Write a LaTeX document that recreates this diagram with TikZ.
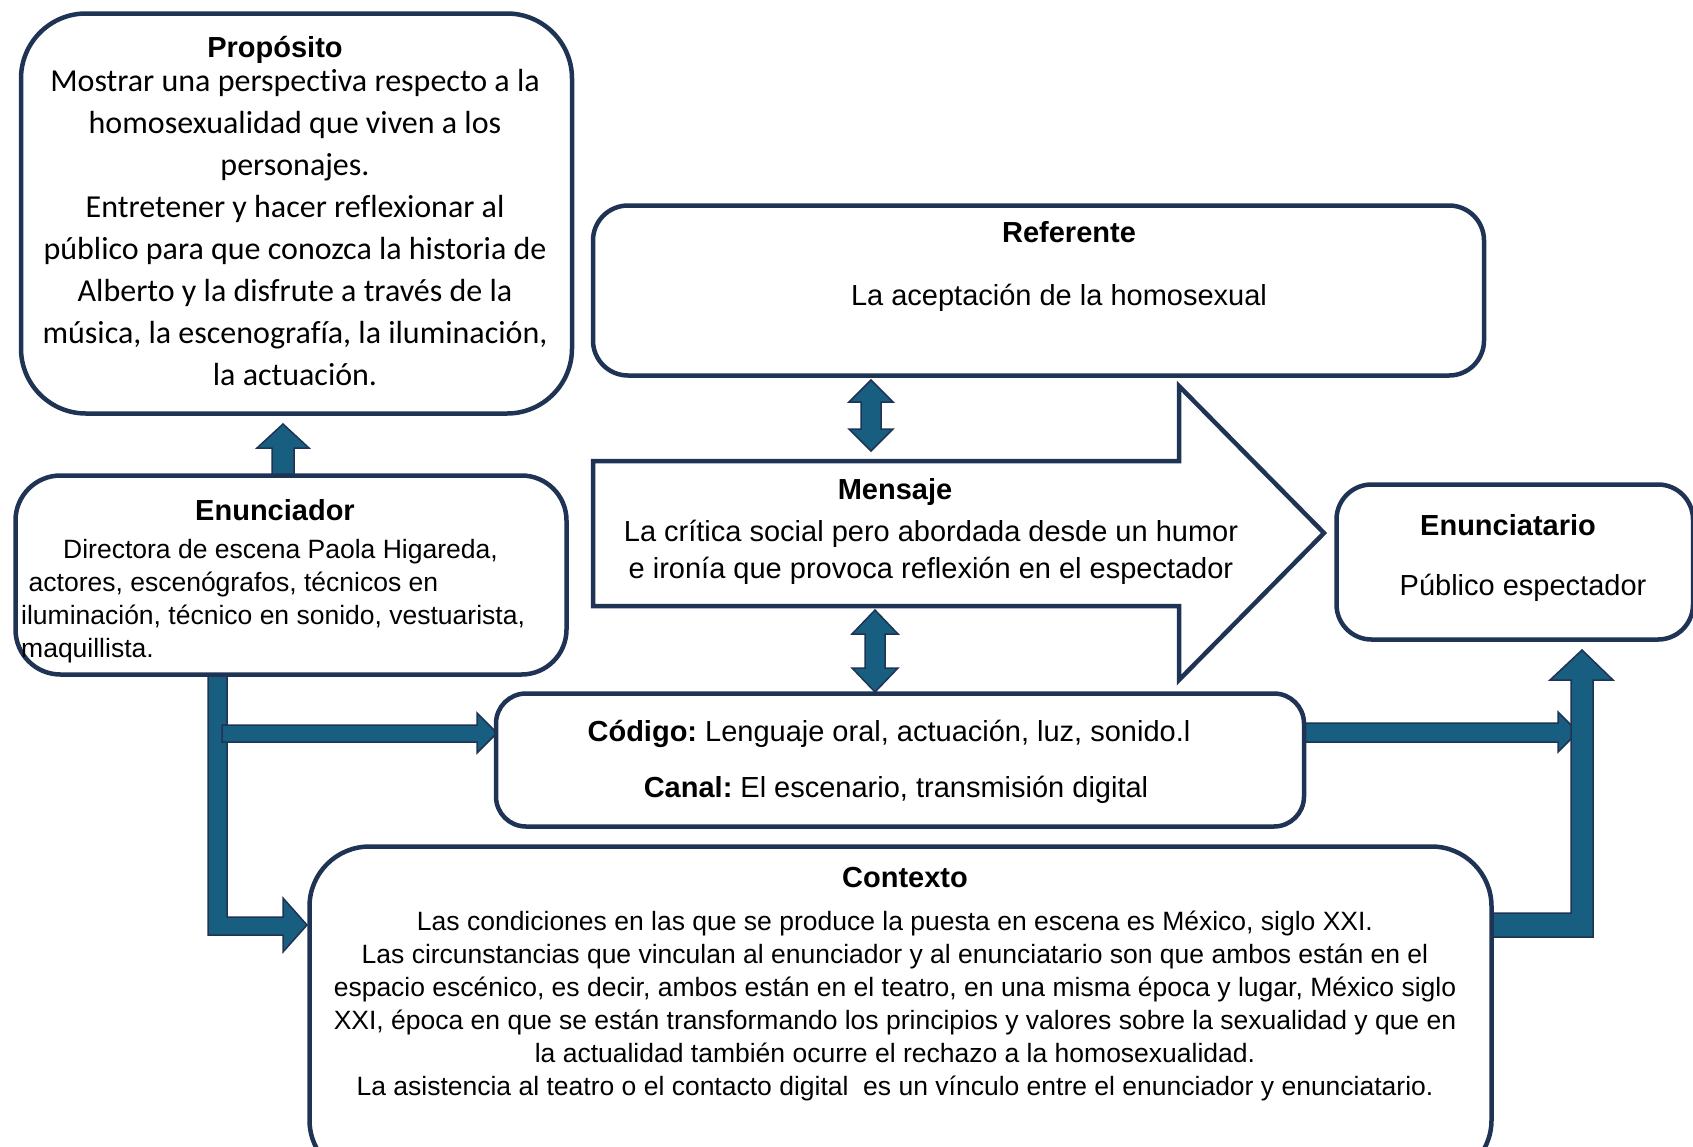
\documentclass[tikz,border=0pt]{standalone}
\usepackage{fontspec}
\setmainfont{Liberation Sans}
\newfontfamily\calibri[Ligatures=CommonOff]{Carlito}
\definecolor{navy}{HTML}{1F3354}
\definecolor{afill}{HTML}{185E80}
\tikzset{
  box/.style={draw=navy, line width=4.5pt, fill=white, inner sep=0pt},
  barrow/.style={fill=afill, draw=navy, line width=1.5pt, line join=miter},
  ttl/.style={font=\fontsize{29}{35}\selectfont\bfseries, inner sep=0pt},
  txt/.style={font=\fontsize{29}{37}\selectfont, inner sep=0pt, align=center},
  small/.style={font=\fontsize{26.5}{33}\selectfont, inner sep=0pt},
}
\begin{document}
\begin{tikzpicture}[x=1pt,y=-1pt]
\clip (0,0) rectangle (1693,1146);
\fill[white] (0,0) rectangle (1693,1146);

% block arrows (under the boxes)
% Enunciador -> Proposito
\draw[barrow] (272,480) -- (272,448) -- (257,448) -- (283,424) -- (309,448) -- (294,448) -- (294,480) -- cycle;
% Enunciador -> Contexto (L)
\draw[barrow] (208,670) -- (227,670) -- (227,917) -- (283,917) -- (283,898) -- (307,925) -- (283,952) -- (283,935) -- (208,935) -- cycle;
% Enunciador -> Codigo
\draw[barrow] (222,725) -- (477,725) -- (477,713) -- (497,733) -- (477,753) -- (477,742) -- (222,742) -- cycle;
% Codigo -> right
\draw[barrow] (1300,723) -- (1558,723) -- (1558,712) -- (1578,732) -- (1558,752) -- (1558,742) -- (1300,742) -- cycle;
% Contexto -> Enunciatario (L)
\draw[barrow] (1485,913) -- (1571,913) -- (1571,680) -- (1550,680) -- (1582,650) -- (1613,680) -- (1593,680) -- (1593,937) -- (1485,937) -- cycle;

% boxes
\node[box, rounded corners=65pt, minimum width=551pt, minimum height=400pt] (prop) at (296.5,213.5) {};
\node[box, rounded corners=45pt, minimum width=551pt, minimum height=199pt] (enun) at (291,575) {};
\node[box, rounded corners=35pt, minimum width=891pt, minimum height=170pt] (refe) at (1038.5,290.5) {};
\node[box, rounded corners=35pt, minimum width=356.5pt, minimum height=155pt] (enut) at (1514.75,562) {};
\node[box, rounded corners=30pt, minimum width=808pt, minimum height=133pt] (codi) at (900,760) {};
\node[box, rounded corners=60pt, minimum width=1182pt, minimum height=333.5pt] (cont) at (900.5,1013.25) {};

% Mensaje big arrow
\draw[draw=navy, line width=4.5pt, fill=white, line join=miter]
  (593,461) -- (1179,461) -- (1179,386) -- (1324,533) -- (1179,680) -- (1179,606) -- (593,606) -- cycle;

% double arrows
\draw[barrow] (861,402) -- (849,402) -- (871,380) -- (893,402) -- (881,402) -- (881,429) -- (893,429) -- (871,451) -- (849,429) -- (861,429) -- cycle;
\draw[barrow] (865,634) -- (852,634) -- (875,610) -- (898,634) -- (885,634) -- (885,668) -- (898,668) -- (875,692) -- (852,668) -- (865,668) -- cycle;

% texts
\node[ttl] (propT) at (275,50) {Propósito};
\node[font=\calibri\fontsize{32}{42}\selectfont, inner sep=0pt, align=center] (propB) at (295,228) {Mostrar una perspectiva respecto a la\\homosexualidad que viven a los\\personajes.\\Entretener y hacer reflexionar al\\público para que conozca la historia de\\Alberto y la disfrute a través de la\\música, la escenografía, la iluminación,\\la actuación.};

\node[ttl] (enunT) at (275,510) {Enunciador};
\node[small, align=left, anchor=west] (enunB) at (21,601) {\hspace*{42pt}Directora de escena Paola Higareda,\\\hspace*{7.5pt}actores, escenógrafos, técnicos en\\iluminación, técnico en sonido, vestuarista,\\maquillista.};

\node[ttl] (refeT) at (1069,232) {Referente};
\node[txt] (refeB) at (1059,298) {La aceptación de la homosexual};

\node[ttl] (mensT) at (895,492) {Mensaje};
\node[txt] (mensB) at (931,552.5) {La crítica social pero abordada desde un humor\\e ironía que provoca reflexión en el espectador};

\node[ttl] (enutT) at (1508,525) {Enunciatario};
\node[txt] (enutB) at (1523,588) {Público espectador};

\node[txt] (codiA) at (889,734) {\textbf{Código:}\hspace{8pt}Lenguaje oral, actuación, luz, sonido.l};
\node[txt] (codiB) at (896,790) {\textbf{Canal:}\hspace{8pt}El escenario, transmisión digital};

\node[ttl] (contT) at (905,878) {Contexto};
\node[small, align=center] (contB) at (895,1006) {Las condiciones en las que se produce la puesta en escena es México, siglo XXI.\\Las circunstancias que vinculan al enunciador y al enunciatario son que ambos están en el\\espacio escénico, es decir, ambos están en el teatro, en una misma época y lugar, México siglo\\XXI, época en que se están transformando los principios y valores sobre la sexualidad y que en\\la actualidad también ocurre el rechazo a la homosexualidad.\\La asistencia al teatro o el contacto digital\ \ es un vínculo entre el enunciador y enunciatario.};
\end{tikzpicture}
\end{document}
